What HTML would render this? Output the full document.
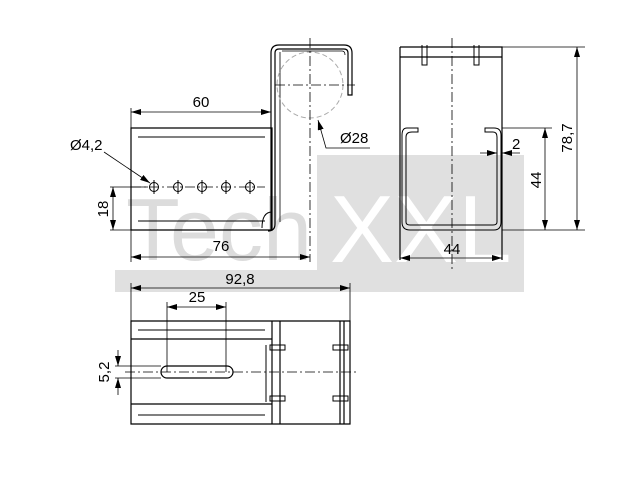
<!DOCTYPE html>
<html><head><style>body{margin:0;background:#fff}svg{display:block}</style></head><body>
<svg width="640" height="480" viewBox="0 0 640 480" xmlns="http://www.w3.org/2000/svg" font-family="Liberation Sans, sans-serif">
<defs><marker id="a" viewBox="0 0 10 6" refX="10" refY="3" markerWidth="10" markerHeight="6" orient="auto-start-reverse" markerUnits="userSpaceOnUse"><path d="M0,0L10,3L0,6z" fill="#000"/></marker></defs>
<rect x="317" y="155" width="207" height="137" fill="#e0e0e0"/>
<rect x="115" y="270" width="202" height="22" fill="#e0e0e0"/>
<text x="126" y="260" font-size="88" fill="#dcdcdc">Tech</text>
<text x="330" y="262" font-size="96" fill="#fff">XXL</text>
<g stroke="#000" fill="none" stroke-width="1.2">
<path d="M131,128H272V230H131Z"/>
<path d="M138,137H265M138,221H265" stroke-width="1"/>
<path d="M271,230V53Q271,45 279,45H344Q352,45 352,53V95H348V53Q348,49 344,49H279Q275,49 275,53V224Q275,231 268,231"/>
<path d="M280,52V222M282,51H342Q345,51 345,55" stroke-width="0.8"/>
<path d="M262,228Q262,212 272,212" stroke-width="1"/>
<circle cx="310" cy="85" r="33" stroke="#aaa" stroke-dasharray="5,3" stroke-width="1"/>
<path d="M310,38V262M275,85H355M131,187H265" stroke-width="0.8" stroke-dasharray="10,3,2,3"/>
<g stroke-width="1"><circle cx="154" cy="187" r="4.5"/><circle cx="178" cy="187" r="4.5"/><circle cx="202" cy="187" r="4.5"/><circle cx="226" cy="187" r="4.5"/><circle cx="250" cy="187" r="4.5"/>
<path d="M154,180V194M178,180V194M202,180V194M226,180V194M250,180V194"/></g>
<g stroke-width="0.8">
<path d="M131,128V108M131,230V262" />
<path d="M131,112H271" marker-start="url(#a)" marker-end="url(#a)"/>
<path d="M131,257H310" marker-start="url(#a)" marker-end="url(#a)"/>
<path d="M110,187H148M110,230H131"/>
<path d="M113,187V230" marker-start="url(#a)" marker-end="url(#a)"/>
<path d="M104,152L150,183" marker-end="url(#a)"/>
<path d="M370,148H326L318,120" marker-end="url(#a)"/>
</g>
<path d="M400,47H502V260M400,47V260M400,57H502"/>
<path d="M422,45V65H427V45M474,45V65H479V45" stroke-width="1"/>
<path d="M418,128H407Q402,128 402,135V222Q402,230 410,230H494Q501,230 501,222V135Q501,128 494,128H485V132H493Q497,132 497,137V222Q497,225 493,225H410Q406,225 406,222V137Q406,132 412,132H418Z" stroke-width="1"/>
<path d="M452,38V270" stroke-width="0.8" stroke-dasharray="10,3,2,3"/>
<g stroke-width="0.8">
<path d="M502,47H585M502,128H552M502,230H585"/>
<path d="M577,47V230" marker-start="url(#a)" marker-end="url(#a)"/>
<path d="M545,128V230" marker-start="url(#a)" marker-end="url(#a)"/>
<path d="M400,258H502" marker-start="url(#a)" marker-end="url(#a)"/>
<path d="M480,153H497" marker-end="url(#a)"/><path d="M520,153H502" marker-end="url(#a)"/>
</g>
<path d="M131,321H350V424H131ZM131,339H272M131,404H272M272,321V424M280,321V424M340,321V424M344,321V424"/>
<path d="M138,330H265M138,415H265" stroke-width="1"/>
<path d="M266,345V402" stroke-width="1"/>
<g stroke-width="1"><rect x="270" y="345" width="15" height="5"/><rect x="270" y="396" width="15" height="5"/><rect x="333" y="345" width="15" height="5"/><rect x="333" y="396" width="15" height="5"/></g>
<rect x="161" y="366" width="72" height="12" rx="6"/>
<path d="M125,372H356" stroke-width="0.8" stroke-dasharray="10,3,2,3"/>
<g stroke-width="0.8">
<path d="M131,321V283M350,321V283M167,372V302M226,372V302"/>
<path d="M131,288H350" marker-start="url(#a)" marker-end="url(#a)"/>
<path d="M167,307H226" marker-start="url(#a)" marker-end="url(#a)"/>
<path d="M115,366H161M115,378H161"/>
<path d="M118,350V366" marker-end="url(#a)"/><path d="M118,395V378" marker-end="url(#a)"/>
</g>
</g>
<g font-size="15" fill="#000">
<text x="201" y="107" text-anchor="middle">60</text>
<text x="70" y="150">Ø4,2</text>
<text x="340" y="143">Ø28</text>
<text x="221" y="251" text-anchor="middle">76</text>
<text x="108" y="209" text-anchor="middle" transform="rotate(-90 108 209)">18</text>
<text x="452" y="254" text-anchor="middle">44</text>
<text x="512" y="149">2</text>
<text x="541" y="180" text-anchor="middle" transform="rotate(-90 541 180)">44</text>
<text x="572" y="138" text-anchor="middle" transform="rotate(-90 572 138)">78,7</text>
<text x="240" y="284" text-anchor="middle">92,8</text>
<text x="197" y="302" text-anchor="middle">25</text>
<text x="109" y="372" text-anchor="middle" transform="rotate(-90 109 372)">5,2</text>
</g>
</svg>
</body></html>
